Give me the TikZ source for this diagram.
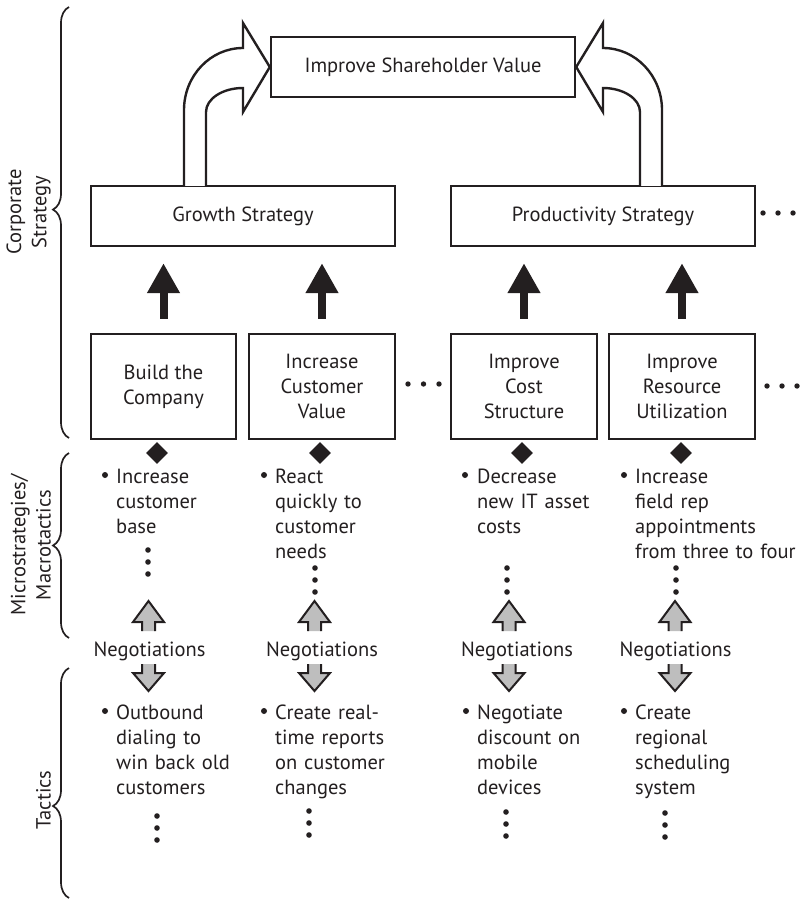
\documentclass[tikz,border=0pt]{standalone}
\usepackage{fontspec}
\setmainfont{PT Sans}
\usetikzlibrary{decorations.pathreplacing,shapes.geometric,arrows.meta}
\definecolor{ink}{RGB}{35,31,32}
\definecolor{greyfill}{RGB}{190,190,190}
\begin{document}
\begin{tikzpicture}[x=1pt,y=-1pt,
  font=\fontsize{20.5}{25.3}\selectfont, text=ink,
  box/.style={draw=ink, line width=2.4pt, inner sep=0pt, align=center},
  bigarrow/.style={draw=ink, line width=2.4pt, fill=white, line join=miter},
  blackarrow/.style={draw=ink, line width=8pt, -{Triangle[width=31pt,length=30pt]}},
  gem/.style={diamond, fill=ink, inner sep=0pt, minimum width=22pt, minimum height=22pt},
  itemlist/.style={inner sep=0pt, align=left, text width=175pt, anchor=base west},
  greyline/.style={draw=ink, line width=2pt, line join=miter},
  sidelabel/.style={rotate=90, anchor=south, align=center, inner sep=0pt},
  bracestyle/.style={draw=ink, line width=1.7pt, decorate},
  dotr/.style={fill=ink}
]
\useasboundingbox (0,0) rectangle (803,901);

% --- strategy boxes
\node[box, minimum width=304pt, minimum height=60pt] (top) at (423,67) {Improve Shareholder Value};
\node[box, minimum width=304pt, minimum height=60pt] (growth) at (243,216) {Growth Strategy};
\node[box, minimum width=304pt, minimum height=60pt] (prod) at (603,216) {Productivity Strategy};

\node[box, minimum width=145pt, minimum height=105pt] (b1) at (163.5,386.5) {Build the\\Company};
\node[box, minimum width=146pt, minimum height=105pt] (b2) at (322,386.5) {Increase\\Customer\\Value};
\node[box, minimum width=146pt, minimum height=105pt] (b3) at (524,386.5) {Improve\\Cost\\Structure};
\node[box, minimum width=146pt, minimum height=105pt] (b4) at (682,386.5) {Improve\\Resource\\Utilization};

% --- curved hollow arrows into the top box
\draw[bigarrow] (184,186) -- (184,110) .. controls (184,75.8) and (210.4,48) .. (243,48)
  -- (243,23) -- (top.west) -- (243,112) -- (243,88)
  .. controls (222.6,88) and (206,98.8) .. (206,112) -- (206,186);
\draw[bigarrow] (662,186) -- (662,110) .. controls (662,75.8) and (635.6,48) .. (603,48)
  -- (603,23) -- (top.east) -- (603,112) -- (603,88)
  .. controls (623.4,88) and (640,98.8) .. (640,112) -- (640,186);

% --- solid arrows from the tactic boxes up to the strategies
\draw[blackarrow] ([yshift=14pt]b1.north) -- ([yshift=-16pt]b1.north |- growth.south);
\draw[blackarrow] ([yshift=14pt]b2.north) -- ([yshift=-16pt]b2.north |- growth.south);
\draw[blackarrow] ([yshift=14pt]b3.north) -- ([yshift=-16pt]b3.north |- prod.south);
\draw[blackarrow] ([yshift=14pt]b4.north) -- ([yshift=-16pt]b4.north |- prod.south);

% --- continuation dots
\foreach \x/\y in {763/213,778/213,793/213, 408/384,423.5/384,439/384, 767/386,782/386,797/386}
  \fill[dotr] (\x,\y) circle (2.7pt);

% --- diamonds
\node[gem] (d1) at (157,453) {};
\node[gem] (d2) at (320,453) {};
\node[gem] (d3) at (522,453) {};
\node[gem] (d4) at (681,453) {};

% --- microstrategies
\node[itemlist] (m1) at (116,483) {Increase\\customer\\base};
\node[itemlist] (m2) at (275,483) {React\\quickly to\\customer\\needs};
\node[itemlist] (m3) at (477,483) {Decrease\\new IT asset\\costs};
\node[itemlist] (m4) at (635,483) {Increase\\field rep\\appointments\\from three to four};
\foreach \x in {105,264,465,624}
  \fill[dotr] (\x,475) circle (3pt);
\foreach \x/\y in {148/550,315/568,507/568,676/568}{
  \fill[dotr] (\x,\y) circle (2.8pt);
  \fill[dotr] (\x,\y+12) circle (2.8pt);
  \fill[dotr] (\x,\y+24) circle (2.8pt);
}

% --- negotiations with two-way arrows
\node[anchor=base, inner sep=0pt] (n1) at (149.5,656) {Negotiations};
\node[anchor=base, inner sep=0pt] (n2) at (322,656) {Negotiations};
\node[anchor=base, inner sep=0pt] (n3) at (517,656) {Negotiations};
\node[anchor=base, inner sep=0pt] (n4) at (675.5,656) {Negotiations};
\foreach \cx in {148.5,314.5,509,675}{
  \fill[greyfill] (\cx-6.5,631) -- (\cx-6.5,622) -- (\cx-15.5,622) -- (\cx,601) -- (\cx+15.5,622) -- (\cx+6.5,622) -- (\cx+6.5,631) -- cycle;
  \draw[greyline] (\cx-6.5,631) -- (\cx-6.5,622) -- (\cx-15.5,622) -- (\cx,601) -- (\cx+15.5,622) -- (\cx+6.5,622) -- (\cx+6.5,631);
  \fill[greyfill] (\cx-6.5,664) -- (\cx-6.5,673) -- (\cx-15.5,673) -- (\cx,691) -- (\cx+15.5,673) -- (\cx+6.5,673) -- (\cx+6.5,664) -- cycle;
  \draw[greyline] (\cx-6.5,664) -- (\cx-6.5,673) -- (\cx-15.5,673) -- (\cx,691) -- (\cx+15.5,673) -- (\cx+6.5,673) -- (\cx+6.5,664);
}

% --- tactics
\node[itemlist] (t1) at (116,719) {Outbound\\dialing to\\win back old\\customers};
\node[itemlist] (t2) at (275,719) {Create real-\\time reports\\on customer\\changes};
\node[itemlist] (t3) at (477,719) {Negotiate\\discount on\\mobile\\devices};
\node[itemlist] (t4) at (635,719) {Create\\regional\\scheduling\\system};
\foreach \x in {105,264,466,624}
  \fill[dotr] (\x,711) circle (3pt);
\foreach \x/\y in {157/816,309/811,506/812,665/813}{
  \fill[dotr] (\x,\y) circle (2.8pt);
  \fill[dotr] (\x,\y+12) circle (2.8pt);
  \fill[dotr] (\x,\y+24) circle (2.8pt);
}

% --- level braces and labels
\draw[bracestyle, decoration={brace, amplitude=16pt, aspect=0.53}] (69,438) -- (69,7);
\draw[bracestyle, decoration={brace, amplitude=16pt, aspect=0.5}] (69,638) -- (69,453);
\draw[bracestyle, decoration={brace, amplitude=16pt, aspect=0.4}] (69,898) -- (69,668);
\node[sidelabel] (lcorp) at (51,212) {Corporate\\Strategy};
\node[sidelabel] (lmicro) at (51,545) {Microstrategies/\\Macrotactics};
\node[sidelabel] (ltact) at (51,800) {Tactics};
\end{tikzpicture}
\end{document}
